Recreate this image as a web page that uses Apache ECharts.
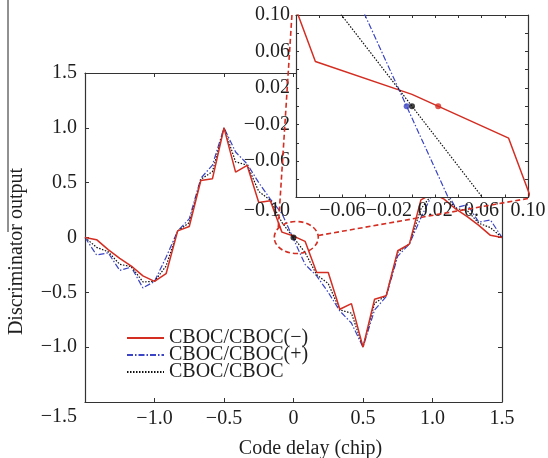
<!DOCTYPE html>
<html><head><meta charset="utf-8">
<script src="https://cdn.jsdelivr.net/npm/echarts@6/dist/echarts.min.js"></script>
<style>html,body{margin:0;padding:0;background:#fff}#c{width:548px;height:458px}</style>
</head><body><div id="c"></div>
<script>
// ---- data ----
const delay = [-1.5, -1.4167, -1.3333, -1.25, -1.1667, -1.0833, -1.0, -0.9167, -0.8333, -0.75, -0.6667, -0.5833, -0.5,
  -0.4167, -0.3333, -0.25, -0.1667, -0.0833, 0, 0.0833, 0.1667, 0.25, 0.3333, 0.4167, 0.5,
  0.5833, 0.6667, 0.75, 0.8333, 0.9167, 1.0, 1.0833, 1.1667, 1.25, 1.3333, 1.4167, 1.5];
const cbocMinus = [0, -0.02, -0.11, -0.19, -0.26, -0.35, -0.40, -0.33, 0.06, 0.10, 0.52, 0.535, 1.0,
  0.596, 0.657, 0.32, 0.335, 0.049, 0.013, -0.035, -0.32, -0.32, -0.654, -0.603, -1.0,
  -0.563, -0.532, -0.121, -0.06, 0.343, 0.40, 0.35, 0.26, 0.19, 0.11, 0.02, 0];
const cbocPlus = [0, -0.16, -0.14, -0.30, -0.27, -0.46, -0.40, -0.18, 0.06, 0.17, 0.54, 0.66, 1.0,
  0.78, 0.67, 0.50, 0.35, 0.219, -0.013, -0.245, -0.35, -0.50, -0.67, -0.78, -1.0,
  -0.66, -0.54, -0.17, -0.06, 0.18, 0.40, 0.46, 0.27, 0.30, 0.14, 0.16, 0];
const cbocCboc = [0, -0.09, -0.13, -0.245, -0.265, -0.405, -0.40, -0.26, 0.06, 0.135, 0.53, 0.60, 1.0,
  0.69, 0.66, 0.42, 0.34, 0.137, 0, -0.137, -0.34, -0.42, -0.66, -0.69, -1.0,
  -0.60, -0.53, -0.135, -0.06, 0.26, 0.40, 0.405, 0.265, 0.245, 0.13, 0.09, 0];
const seriesNames = ['CBOC/CBOC(\u2212)', 'CBOC/CBOC(+)', 'CBOC/CBOC'];
// zero crossings (red, blue, black)
const zeroCrossX = [0.0226, -0.0046, 0];
const zeroCrossY = [0, 0, 0];
// tick labels ("{lo|...}" = label drawn lower, on the x-label row)
const mainXLabels = ['', '\u22121.0', '\u22120.5', '0', '0.5', '1.0', '1.5'];
const mainYLabels = ['{lo|\u22121.5}', '\u22121.0', '\u22120.5', '0', '0.5', '1.0', '1.5'];
const insetXLabels = ['', '', '\u22120.06', '', '\u22120.02', '', '0.02', '', '0.06', '', '0.10'];
const insetYLabels = ['{lo|\u22120.10}', '', '\u22120.06', '', '\u22120.02', '', '0.02', '', '0.06', '', '0.10'];

// ---- chart ----
const FONT = "'Liberation Serif','Times New Roman',serif";
const RED = '#d42d22', BLUE = '#3a44c4', BLACK = '#111111', AX = '#333333', TXT = '#1e1e1e';
const chart = echarts.init(document.getElementById('c'), null, {renderer: 'canvas'});
const pairs = ys => delay.map((x, i) => [x, ys[i]]);
const fmt = (labels, min, step) => v => { const s = labels[Math.round((v - min) / step)]; return s === undefined ? '' : s; };
const lab = (labels, min, step, margin, drop) => ({
  formatter: fmt(labels, min, step), fontFamily: FONT, fontSize: 20, color: TXT, margin: margin,
  rich: {lo: {fontFamily: FONT, fontSize: 20, color: TXT, padding: [drop || 0, 0, 0, 0]}}
});
const axLine = {show: true, onZero: false, lineStyle: {color: AX, width: 1.2}};
const tick = {show: true, inside: true, length: 4, lineStyle: {color: AX, width: 1}};
const tickSmall = {show: true, inside: true, length: 3, lineStyle: {color: AX, width: 1}};

function ax(grid, pos, min, max, step, labelCfg, z, t, extra) {
  return Object.assign({type: 'value', gridIndex: grid, position: pos, min: min, max: max, interval: step,
    axisLine: axLine, axisTick: t, splitLine: {show: false}, z: z,
    axisLabel: labelCfg ? labelCfg : {show: false}}, extra || {});
}

const lineStyles = [
  {color: RED, width: 1.5, type: 'solid'},
  {color: BLUE, width: 1.2, type: [6, 2, 1.5, 2]},
  {color: BLACK, width: 1.2, type: [1.5, 1.5]}
];
const dataSets = [cbocMinus, cbocPlus, cbocCboc];
const dotColors = [RED, BLUE, BLACK];

const series = [];
dataSets.forEach((d, i) => series.push({
  name: seriesNames[i], type: 'line', xAxisIndex: 0, yAxisIndex: 0, data: pairs(d),
  symbol: 'none', lineStyle: lineStyles[i], itemStyle: {color: lineStyles[i].color}, z: 2 + (i === 0 ? 1 : 0), silent: true
}));
dataSets.forEach((d, i) => series.push({
  name: seriesNames[i], type: 'line', xAxisIndex: 2, yAxisIndex: 2, data: pairs(d), clip: true,
  symbol: 'none', lineStyle: lineStyles[i], itemStyle: {color: lineStyles[i].color}, z: 7, silent: true
}));
series.push({
  type: 'scatter', xAxisIndex: 0, yAxisIndex: 0, symbolSize: 6, z: 4, silent: true,
  data: [{value: [zeroCrossX[2], zeroCrossY[2]], itemStyle: {color: dotColors[2]}}]
});
series.push({
  type: 'scatter', xAxisIndex: 2, yAxisIndex: 2, symbolSize: 6, z: 8, silent: true,
  data: zeroCrossX.map((x, i) => ({value: [x, zeroCrossY[i]], itemStyle: {color: dotColors[i]}}))
});

const option = {
  animation: false,
  backgroundColor: '#fff',
  grid: [
    {left: 85, right: 46, top: 73, bottom: 56, outerBoundsMode: 'none', containLabel: false},
    {left: 296, right: 20, top: 15, bottom: 260.5, outerBoundsMode: 'none', containLabel: false}
  ],
  legend: {
    data: seriesNames, orient: 'vertical', left: 121, top: 323, itemGap: -3, itemWidth: 37, itemHeight: 12,
    itemStyle: {opacity: 0},
    textStyle: {fontFamily: FONT, fontSize: 20, color: TXT}, selectedMode: false
  },
  xAxis: [
    ax(0, 'bottom', -1.5, 1.5, 0.5, lab(mainXLabels, -1.5, 0.5, 7), 0, tick, {
      name: 'Code delay (chip)', nameLocation: 'middle', nameGap: 37,
      nameTextStyle: {fontFamily: FONT, fontSize: 20, color: TXT, padding: [0, 0, 0, 34]}
    }),
    ax(0, 'top', -1.5, 1.5, 0.5, null, 0, tick),
    ax(1, 'bottom', -0.1, 0.1, 0.02, lab(insetXLabels, -0.1, 0.02, 3), 6, tickSmall),
    ax(1, 'top', -0.1, 0.1, 0.02, null, 6, tickSmall)
  ],
  yAxis: [
    ax(0, 'left', -1.5, 1.5, 0.5, lab(mainYLabels, -1.5, 0.5, 8, 30), 0, tick, {
      name: 'Discriminator output', nameLocation: 'middle', nameGap: 58,
      nameTextStyle: {fontFamily: FONT, fontSize: 20, color: TXT, padding: [0, 28, 0, 0]}
    }),
    ax(0, 'right', -1.5, 1.5, 0.5, null, 0, tick),
    ax(1, 'left', -0.1, 0.1, 0.02, lab(insetYLabels, -0.1, 0.02, 6, 26), 6, tickSmall),
    ax(1, 'right', -0.1, 0.1, 0.02, null, 6, tickSmall)
  ],
  series: series
};
chart.setOption(option);

// ---- inset backdrop and zoom annotation, placed through the axes ----
const c = chart.convertToPixel({gridIndex: 0}, [0.02, 0]);
const tl = chart.convertToPixel({gridIndex: 1}, [-0.1, 0.1]);
const br = chart.convertToPixel({gridIndex: 1}, [0.1, -0.1]);
const dash = {stroke: RED, lineWidth: 1.6, lineDash: [5, 3], fill: null};
chart.setOption({
  graphic: [
    {type: 'rect', shape: {x: tl[0], y: tl[1], width: br[0] - tl[0], height: br[1] - tl[1]},
      style: {fill: '#fff', stroke: null}, z: 5, silent: true},
    {type: 'ellipse', shape: {cx: c[0], cy: c[1], rx: 22, ry: 16}, style: dash, z: 100, silent: true},
    {type: 'line', shape: {x1: c[0] - 18, y1: c[1] - 10, x2: tl[0] - 4, y2: tl[1] - 1}, style: dash, z: 100, silent: true},
    {type: 'line', shape: {x1: c[0] + 22, y1: c[1] - 2, x2: br[0], y2: br[1] + 1}, style: dash, z: 100, silent: true},
    {type: 'line', shape: {x1: 8, y1: 0, x2: 8, y2: 232}, style: {stroke: '#222', lineWidth: 1}, z: 100, silent: true}
  ]
});
</script>
</body></html>
